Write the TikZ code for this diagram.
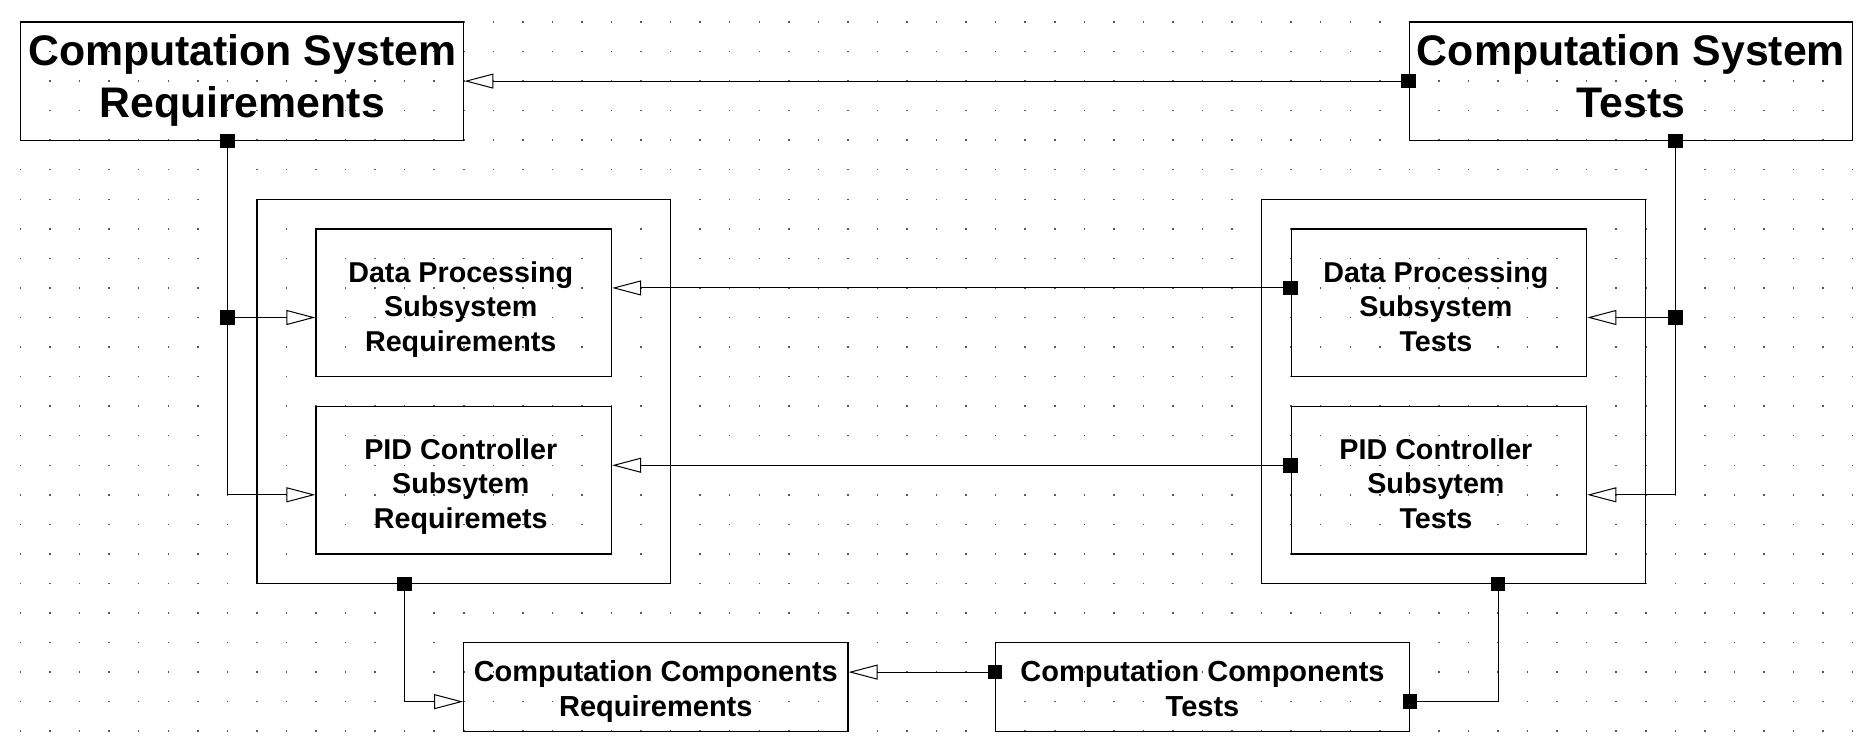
\documentclass[tikz,border=0pt]{standalone}
\usepackage{fontspec}
\setmainfont{Liberation Sans}
\usetikzlibrary{arrows.meta}
\begin{document}
\begin{tikzpicture}[x=29.55bp,y=-29.55bp,
  box/.style={draw,line width=1.3bp,inner sep=0pt,minimum width={#1}},
  conn/.style={line width=1bp},
  arr/.style={-{Triangle[open,length=29bp,width=15bp,line width=1bp]}},
  port/.style={fill=black,draw=none,inner sep=0pt,minimum size=14.5bp},
  bigtxt/.style={align=center,inner sep=0pt,font=\fontsize{42.8bp}{51.7bp}\selectfont\bfseries},
  midtxt/.style={align=center,inner sep=0pt,yshift=-7bp,font=\fontsize{28.7bp}{34.5bp}\selectfont\bfseries},
  cctxt/.style={align=center,inner sep=0pt,yshift=-5bp,font=\fontsize{29bp}{34.7bp}\selectfont\bfseries},
  dotc/.style={fill=black!65}]
\useasboundingbox (-0.6937,-0.7445) rectangle (62.656,24.569);
% grid dots
\foreach \i in {0,...,62}{
  \foreach \j in {0,...,24}{
    \fill[dotc] (\i,\j) ++(-0.75bp,-0.75bp) rectangle ++(1.5bp,1.5bp);
  }
}
% boxes
\node[box={15*29.55bp},minimum height={4*29.55bp}] (csr) at (7.5,2) {};
\node[box={15*29.55bp},minimum height={4*29.55bp}] (cst) at (54.5,2) {};
\node[box={14*29.55bp},minimum height={13*29.55bp}] (lc) at (15,12.5) {};
\node[box={13*29.55bp},minimum height={13*29.55bp}] (rc) at (48.5,12.5) {};
\node[box={10*29.55bp},minimum height={5*29.55bp}] (dpsr) at (15,9.5) {};
\node[box={10*29.55bp},minimum height={5*29.55bp}] (pidr) at (15,15.5) {};
\node[box={10*29.55bp},minimum height={5*29.55bp}] (dpst) at (48,9.5) {};
\node[box={10*29.55bp},minimum height={5*29.55bp}] (pidt) at (48,15.5) {};
\node[box={13*29.55bp},minimum height={3*29.55bp}] (ccr) at (21.5,22.5) {};
\node[box={14*29.55bp},minimum height={3*29.55bp}] (cct) at (40,22.5) {};
% texts
\node[bigtxt] (csrt) at (csr.center) {\strut Computation System\\\strut Requirements};
\node[bigtxt] (cstt) at (cst.center) {\strut Computation System\\\strut Tests};
\node[midtxt,xshift=-3bp] (dpsrt) at (dpsr.center) {\strut Data Processing\\\strut Subsystem\\\strut Requirements};
\node[midtxt,xshift=-3bp] (pidrt) at (pidr.center) {\strut PID Controller\\\strut Subsytem\\\strut Requiremets};
\node[midtxt,xshift=-3bp] (dpstt) at (dpst.center) {\strut Data Processing\\\strut Subsystem\\\strut Tests};
\node[midtxt,xshift=-3bp] (pidtt) at (pidt.center) {\strut PID Controller\\\strut Subsytem\\\strut Tests};
\node[cctxt] (ccrt) at (ccr.center) {\strut Computation Components\\\strut Requirements};
\node[cctxt] (cctt) at (cct.center) {\strut Computation Components\\\strut Tests};
% attachment coordinates
\coordinate (aL) at (7,10);
\coordinate (aLb) at (7,16);
\coordinate (aR) at (56,10);
\coordinate (aRb) at (56,16);
\coordinate (bL) at (13,23);
\coordinate (bR) at (50,23);
\coordinate (r9) at (0,9);
\coordinate (r15) at (0,15);
\coordinate (r22) at (0,22);
% connectors
\draw[conn,arr] (cst.west) -- (csr.east);
\draw[conn] (aL |- csr.south) -- (aLb);
\draw[conn,arr] (aL) -- (aL -| dpsr.west);
\draw[conn,arr] (aLb) -- (aLb -| pidr.west);
\draw[conn,arr] (dpst.west |- r9) -- (dpsr.east |- r9);
\draw[conn,arr] (pidt.west |- r15) -- (pidr.east |- r15);
\draw[conn] (aR |- cst.south) -- (aRb);
\draw[conn,arr] (aR) -- (aR -| dpst.east);
\draw[conn,arr] (aRb) -- (aRb -| pidt.east);
\draw[conn,arr] (bL |- lc.south) -- (bL) -- (bL -| ccr.west);
\draw[conn,arr] (cct.west |- r22) -- (ccr.east |- r22);
\draw[conn] (cct.east |- bR) -- (bR) -- (bR |- rc.south);
% ports
\node[port] (p1) at (cst.west) {};
\node[port] (p2) at (aL |- csr.south) {};
\node[port] (p3) at (aL) {};
\node[port] (p4) at (dpst.west |- r9) {};
\node[port] (p5) at (pidt.west |- r15) {};
\node[port] (p6) at (aR |- cst.south) {};
\node[port] (p7) at (aR) {};
\node[port] (p8) at (bL |- lc.south) {};
\node[port] (p9) at (cct.west |- r22) {};
\node[port] (p10) at (cct.east |- bR) {};
\node[port] (p11) at (bR |- rc.south) {};
\end{tikzpicture}
\end{document}
